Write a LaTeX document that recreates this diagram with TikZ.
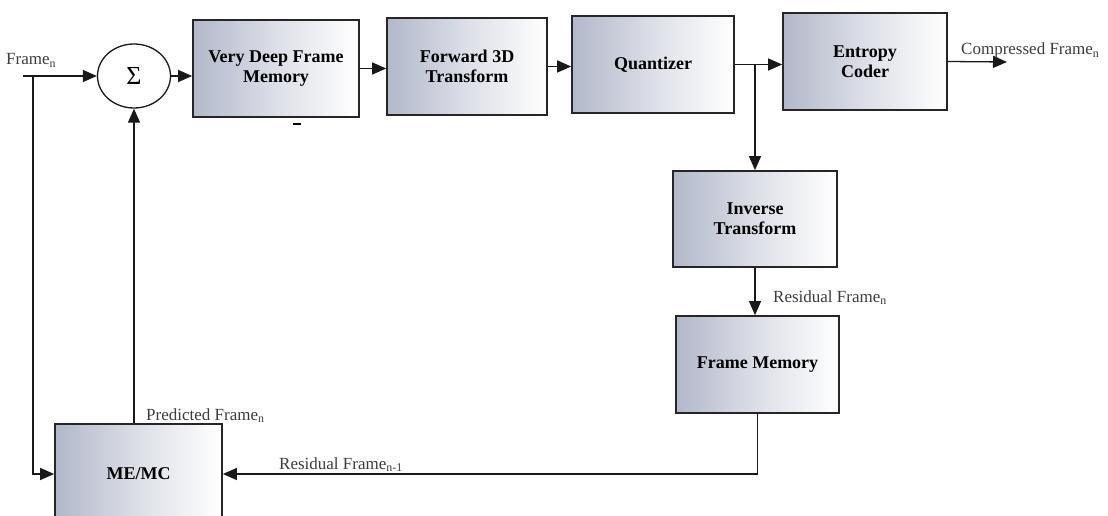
\documentclass[tikz,border=0pt]{standalone}
\usepackage{fontspec}
\setmainfont{Liberation Serif}
\usetikzlibrary{arrows.meta,shapes.geometric,calc}
\definecolor{shadeL}{RGB}{178,184,202}
\definecolor{labelgray}{RGB}{60,60,60}
\begin{document}
\begin{tikzpicture}[x=1pt,y=-1pt,
  blockbox/.style={draw=black!85, line width=1.7pt, left color=shadeL, right color=white,
    middle color=shadeL!45!white,
    inner sep=0pt, align=center, font=\bfseries\fontsize{18}{20}\selectfont},
  sumnode/.style={draw=black!90, ellipse, line width=1.3pt, minimum width=73, minimum height=64,
    inner sep=0pt, font=\fontsize{26}{28}\selectfont},
  sig/.style={draw=black!90, line width=1.3pt, -{Triangle[length=14pt,width=12pt]}},
  lbl/.style={text=labelgray, inner sep=0pt, font=\fontsize{17}{19}\selectfont}]
\clip (0,0) rectangle (1108,516);

% processing chain
\node[blockbox, minimum width=166, minimum height=97] (vdfm)  at (276,68.5)  {Very Deep Frame\\Memory};
\node[blockbox, minimum width=160, minimum height=97] (fwd)   at (467,66.5)  {Forward 3D\\Transform};
\node[blockbox, minimum width=162, minimum height=97] (quant) at (653,64.5)  {Quantizer};
\node[blockbox, minimum width=164, minimum height=97] (ent)   at (865,61.5)  {Entropy\\Coder};
\node[blockbox, minimum width=164, minimum height=96] (inv)   at (755,219)   {Inverse\\Transform};
\node[blockbox, minimum width=163, minimum height=97] (fm)    at (757.5,364.5) {Frame Memory};
\node[blockbox, minimum width=167, minimum height=100] (memc) at (138.5,474) {ME/MC};
\node[sumnode] (sum) at (134,76) {Σ};

% input and feedback paths
\coordinate (in) at (23,76);
\coordinate (split) at (33,76);
\coordinate (out) at (1007,62);
\draw[sig] (in) -- (sum.west);
\draw[sig] (split) |- (memc.west);
\draw[sig] (memc.north -| sum.south) -- (sum.south);
\draw[sig] (sum.east) -- (vdfm.west |- sum.east);
\draw[sig] (vdfm.east) -- (fwd.west |- vdfm.east);
\draw[sig] (fwd.east) -- (quant.west |- fwd.east);
\draw[sig] (quant.east) -- (ent.west |- quant.east);
\coordinate (br) at (quant.east -| inv.north);
\draw[sig] (br) -- (inv.north);
\draw[sig] (ent.east) -- (out);
\draw[sig] (inv.south) -- (fm.north -| inv.south);
\draw[sig] (fm.south) |- (memc.east);

% small mark below the first block
\draw[line width=2pt] (293,124) -- (301,124);

% signal labels
\node[lbl, anchor=base west] (lin)   at (6,65)    {Frame\textsubscript{n}};
\node[lbl, anchor=base west] (lout)  at (961,55)  {Compressed Frame\textsubscript{n}};
\node[lbl, anchor=base west] (lres)  at (773,302) {Residual Frame\textsubscript{n}};
\node[lbl, anchor=base west] (lpred) at (146,420) {Predicted Frame\textsubscript{n}};
\node[lbl, anchor=base west] (lprev) at (279,469) {Residual Frame\textsubscript{n-1}};
\end{tikzpicture}
\end{document}
